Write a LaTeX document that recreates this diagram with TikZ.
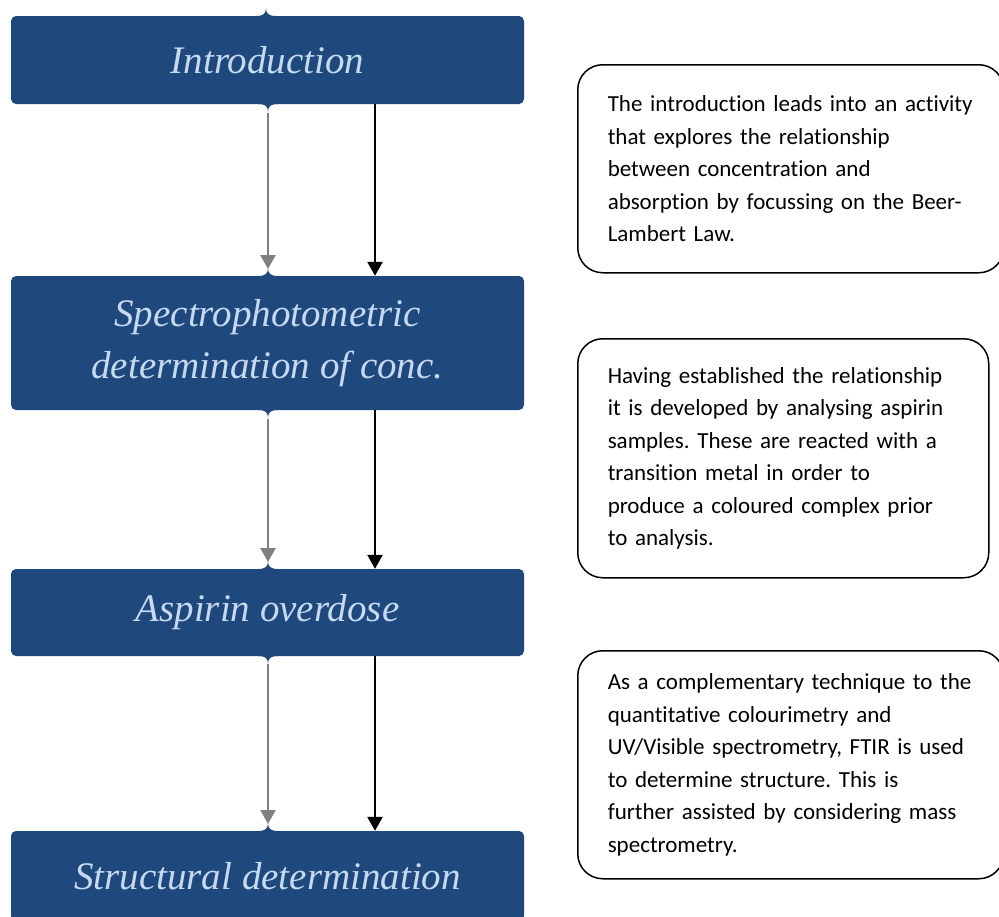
\documentclass[tikz,border=0pt]{standalone}
\usepackage{fontspec}
\setmainfont{Liberation Serif}
\newfontfamily\calibfont[Ligatures=NoCommon]{Carlito}
\usetikzlibrary{arrows.meta}
\definecolor{boxblue}{RGB}{31,73,125}
\definecolor{titlecol}{RGB}{198,217,241}
\definecolor{arrgray}{RGB}{128,128,128}
\newcommand\cuspup[2]{\fill[boxblue] (#1-10,#2+1) -- (#1-10,#2) .. controls (#1-2,#2) and (#1,#2-3) .. (#1,#2-8) .. controls (#1,#2-3) and (#1+2,#2) .. (#1+10,#2) -- (#1+10,#2+1) -- cycle;}
\newcommand\cuspdown[2]{\fill[boxblue] (#1-10,#2-1) -- (#1-10,#2) .. controls (#1-2,#2) and (#1,#2+3) .. (#1,#2+8) .. controls (#1,#2+3) and (#1+2,#2) .. (#1+10,#2) -- (#1+10,#2-1) -- cycle;}
\newcommand\noteline[1]{\mbox{#1}\\}
\frenchspacing
\begin{document}
\begin{tikzpicture}[x=1pt,y=-1pt,
  stage/.style={fill=boxblue, rounded corners=5pt, minimum width=513pt, inner sep=0pt,
    text=titlecol, font=\fontsize{39}{52}\selectfont\itshape, align=center},
  note/.style={draw=black, line width=1.5pt, rounded corners=25pt, anchor=north west,
    inner xsep=30pt, inner ysep=0pt, align=left,
    font=\calibfont\fontsize{23}{32.5}\selectfont\frenchspacing},
  grayarr/.style={draw=arrgray, line width=2.5pt, -{Triangle[width=15pt,length=14pt]}},
  blackarr/.style={draw=black, line width=2.5pt, -{Triangle[width=15pt,length=14pt]}}]
\useasboundingbox (0,0) rectangle (999,916);
\clip (0,0) rectangle (999,916);
% stages
\node[stage, minimum height=88pt] (intro) at (267.5,60) {Introduction};
\node[stage, minimum height=134pt] (spec) at (267.5,343) {Spectrophotometric\\determination of conc.};
\node[stage, minimum height=87pt] (asp) at (267.5,612.5) {Aspirin overdose};
\node[stage, minimum height=90pt] (struc) at (267.5,876) {Structural determination};
% cusps
\cuspup{266}{16}
\cuspdown{268}{104}
\cuspup{268}{276}
\cuspdown{268}{410}
\cuspup{268}{569}
\cuspdown{268}{656}
\cuspup{268}{831}
% cusp tips
\coordinate (g1) at (268,113);
\coordinate (g2) at (268,269);
\coordinate (g3) at (268,419);
\coordinate (g4) at (268,562);
\coordinate (g5) at (268,664);
\coordinate (g6) at (268,824);
\coordinate (bx) at (375,0);
% arrows
\draw[grayarr] (g1) -- (g2);
\draw[grayarr] (g3) -- (g4);
\draw[grayarr] (g5) -- (g6);
\draw[blackarr] (intro.south -| bx) -- (spec.north -| bx);
\draw[blackarr] (spec.south -| bx) -- (asp.north -| bx);
\draw[blackarr] (asp.south -| bx) -- (struc.north -| bx);
% notes
\node[note, minimum width=426pt, minimum height=208pt, text width=366pt] (n1) at (577,64)
  {\noteline{The introduction leads into an activity}\noteline{that explores the relationship}\noteline{between concentration and}\noteline{absorption by focussing on the Beer-}\mbox{Lambert Law.}};
\node[note, minimum width=411pt, minimum height=239pt, text width=351pt] (n2) at (577,338)
  {\noteline{Having established the relationship}\noteline{it is developed by analysing aspirin}\noteline{samples. These are reacted with a}\noteline{transition metal in order to}\noteline{produce a coloured complex prior}\mbox{to analysis.}};
\node[note, minimum width=426pt, minimum height=228pt, text width=366pt] (n3) at (577,650)
  {\noteline{As a complementary technique to the}\noteline{quantitative colourimetry and}\noteline{UV/Visible spectrometry, FTIR is used}\noteline{to determine structure. This is}\noteline{further assisted by considering mass}\mbox{spectrometry.}};
\end{tikzpicture}
\end{document}
